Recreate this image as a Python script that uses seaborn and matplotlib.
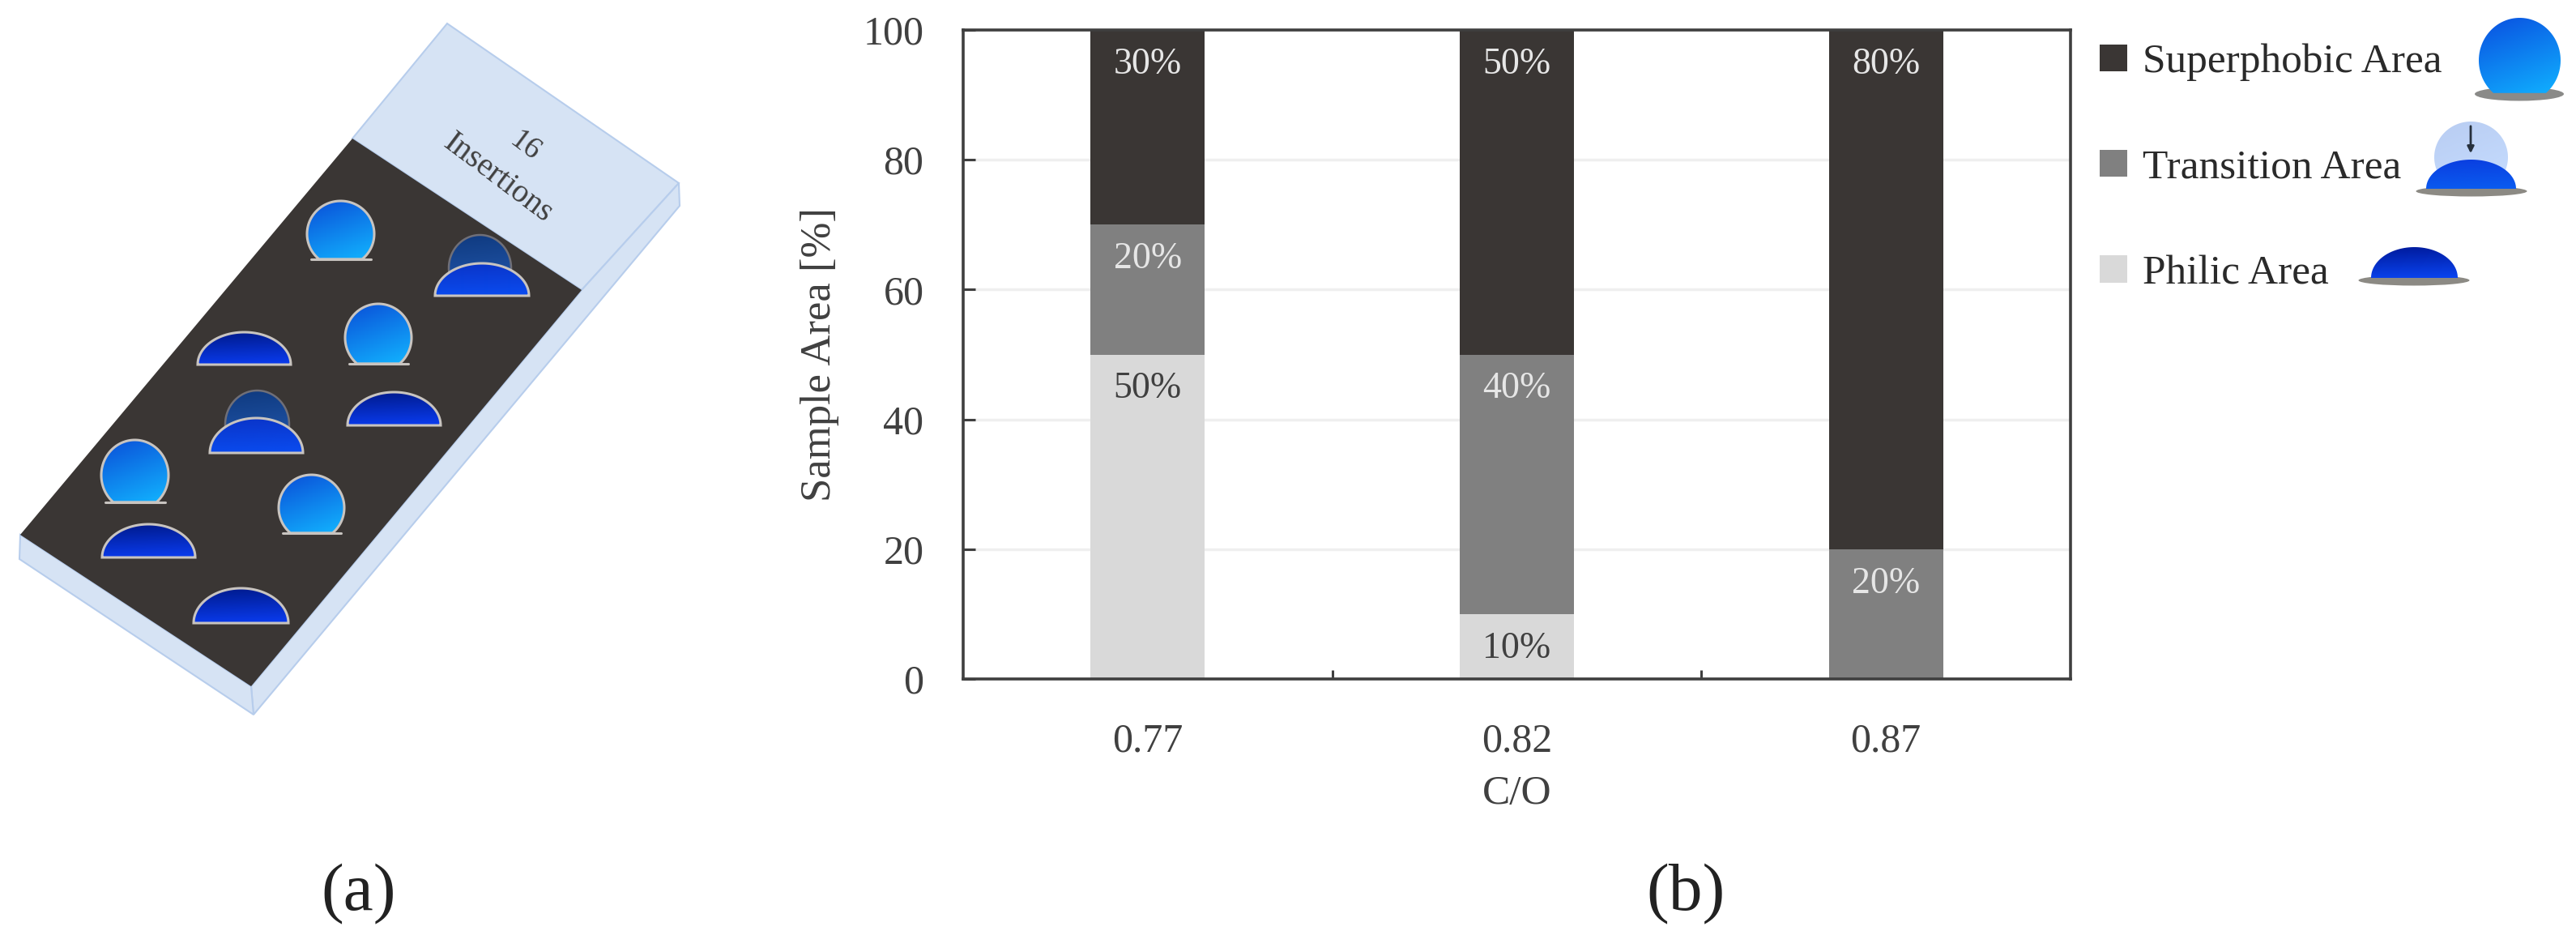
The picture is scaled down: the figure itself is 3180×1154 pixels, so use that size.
import numpy as np
import pandas as pd
import seaborn as sns
import matplotlib.pyplot as plt
from matplotlib.colors import to_rgb
from matplotlib.patches import Ellipse, Patch, Polygon

# ---------------- DATA ---------------- #

ratios = ["0.77", "0.82", "0.87"]
superphobic = [30, 50, 80]
transition = [20, 40, 20]
philic = [50, 10, 0]

legend_names = ["Superphobic Area", "Transition Area", "Philic Area"]
area_colors = ["#3a3634", "#808080", "#d9d9d9"]

y_ticks = [0, 20, 40, 60, 80, 100]

W, H = 3180, 1154
TEXT = "#404040"

sns.set_theme(style="white")
plt.rcParams["font.family"] = ["Liberation Serif", "DejaVu Serif"]

fig = plt.figure(figsize=(W / 100, H / 100), dpi=100, facecolor="white")


# ---------------- SKETCH HELPERS ---------------- #

def gradient_fill(ax, verts, c0, c1, slant=0.3, zorder=3):
    """Fill a polygon with a top-left to bottom-right colour gradient."""
    verts = np.asarray(verts)
    x0, x1 = verts[:, 0].min(), verts[:, 0].max()
    y0, y1 = verts[:, 1].min(), verts[:, 1].max()
    gx, gy = np.meshgrid(np.linspace(0, 1, 40), np.linspace(0, 1, 40))
    t = np.clip(((1 - slant) * gy + slant * gx)[..., None], 0, 1)
    img = np.array(to_rgb(c0)) * (1 - t) + np.array(to_rgb(c1)) * t
    patch = Polygon(verts, closed=True, facecolor="none", edgecolor="none")
    ax.add_patch(patch)
    im = ax.imshow(img, extent=(x0, x1, y1, y0), origin="upper", aspect="auto",
                   interpolation="bilinear", zorder=zorder)
    im.set_clip_path(patch)


def dome_verts(xl, xr, ytop, ybase):
    a = (xr - xl) / 2
    th = np.linspace(np.pi, 2 * np.pi, 60)
    return np.c_[xl + a + a * np.cos(th), ybase + (ybase - ytop) * np.sin(th)]


def ball_verts(xl, xr, ytop, ybase):
    # ellipse cut off just above its lowest point
    a = (xr - xl) / 2
    b = (ybase - ytop) * 0.565
    cy = ytop + b
    th = np.linspace(np.radians(130), np.radians(410), 80)
    return np.c_[xl + a + a * np.cos(th), cy + b * np.sin(th)]


def outline(ax, verts, color="#c8c4c0", lw=2.2, zorder=3.5):
    ax.add_patch(Polygon(verts, closed=True, facecolor="none", edgecolor=color,
                         lw=lw, zorder=zorder))


def ball_on_slide(ax, xl, xr, ytop, ybase):
    v = ball_verts(xl, xr, ytop, ybase)
    gradient_fill(ax, v, "#0a4fd8", "#12b4ff")
    outline(ax, v)
    ax.plot([xl + 5, xr - 4], [ybase, ybase], color="#c8c4c0", lw=2.2, zorder=3.5)


def dome_on_slide(ax, xl, xr, ytop, ybase, c0="#001a8c", c1="#0a3cf0"):
    v = dome_verts(xl, xr, ytop, ybase)
    gradient_fill(ax, v, c0, c1, slant=0.1, zorder=4)
    outline(ax, v, zorder=5)


def ghost_on_slide(ax, xl, xr, ytop, ybase):
    v = ball_verts(xl, xr, ytop, ybase)
    gradient_fill(ax, v, "#0f3a80", "#245ab0", slant=0.1)
    outline(ax, v, color="#6f6f78", lw=1.8)


def draw_slide(ax):
    ax.add_patch(Polygon([(552, 29), (838, 226), (718, 358), (435, 171)],
                         facecolor="#d6e3f4", edgecolor="#b7cdec", lw=1.5))
    ax.add_patch(Polygon([(838, 226), (839, 254), (313, 882), (310, 847), (718, 358)],
                         facecolor="#d6e3f4", edgecolor="#b7cdec", lw=1.5))
    ax.add_patch(Polygon([(25, 660), (24, 690), (313, 882), (310, 847)],
                         facecolor="#d6e3f4", edgecolor="#b7cdec", lw=1.5))
    ax.add_patch(Polygon([(435, 171), (718, 358), (310, 847), (25, 660)],
                         facecolor="#3a3634", edgecolor="none"))

    for xl, xr, top, base in [(379, 462, 248, 320), (426, 508, 375, 449),
                              (125, 208, 543, 620), (344, 425, 586, 658)]:
        ball_on_slide(ax, xl, xr, top, base)
    for xl, xr, top, base in [(244, 359, 410, 450), (429, 544, 484, 525),
                              (126, 241, 647, 688), (239, 356, 726, 769)]:
        dome_on_slide(ax, xl, xr, top, base)
    for gl, gr, gtop, xl, xr, top, base in [(554, 631, 290, 537, 653, 325, 365),
                                            (278, 357, 482, 259, 374, 516, 559)]:
        ghost_on_slide(ax, gl, gr, gtop, base - 3)
        dome_on_slide(ax, xl, xr, top, base, c0="#0a34c8", c1="#0a4cf0")

    ax.text(648, 181, "16", rotation=-37, rotation_mode="anchor", ha="center", va="center",
            fontsize=27, color=TEXT)
    ax.text(615, 220, "Insertions", rotation=-37, rotation_mode="anchor", ha="center",
            va="center", fontsize=29, color=TEXT)


def draw_legend_icons(ax):
    # superphobic
    ax.add_patch(Ellipse((3110, 116), 110, 17, facecolor="#8a8a88", edgecolor="none", zorder=2))
    gradient_fill(ax, ball_verts(3060, 3161, 22, 115), "#0a50e0", "#10b0ff")
    # transition
    ax.add_patch(Ellipse((3051, 236), 137, 13, facecolor="#8c8a84", edgecolor="none", zorder=2))
    gradient_fill(ax, ball_verts(3005, 3096, 150, 228), "#b9cdf2", "#c5dcff")
    ax.annotate("", xy=(3050, 192), xytext=(3050, 153),
                arrowprops=dict(arrowstyle="-|>", color="#26303c", lw=2, mutation_scale=12),
                zorder=5)
    gradient_fill(ax, dome_verts(2995, 3106, 197, 233), "#0a3ee0", "#0a5cf0", slant=0.1, zorder=4)
    # philic
    ax.add_patch(Ellipse((2980, 346), 137, 13, facecolor="#8c8a84", edgecolor="none", zorder=2))
    gradient_fill(ax, dome_verts(2927, 3034, 305, 343), "#001a9c", "#0a44f0", slant=0.1)


# ---------------- PIXEL LAYER: PANEL (a), ICONS, CAPTIONS ---------------- #

sketch = fig.add_axes([0, 0, 1, 1], zorder=0)
sketch.axis("off")
draw_slide(sketch)
draw_legend_icons(sketch)
sketch.set_xlim(0, W)
sketch.set_ylim(H, 0)
sketch.text(443, 1104, "(a)", ha="center", va="center", fontsize=60, color="#222222")
sketch.text(2081, 1104, "(b)", ha="center", va="center", fontsize=60, color="#222222")


# ---------------- PANEL (b) ---------------- #

left, right, top, bottom = 1189, 2556, 37, 838
ax = fig.add_axes([left / W, 1 - bottom / H, (right - left) / W, (bottom - top) / H], zorder=1)

df = pd.DataFrame({
    "C/O": ratios,
    "Philic": philic,
    "Transition": np.add(philic, transition),
    "Superphobic": np.add(np.add(philic, transition), superphobic),
})

# stacked by overdrawing the running totals, biggest first
for col, color in zip(["Superphobic", "Transition", "Philic"], area_colors):
    sns.barplot(data=df, x="C/O", y=col, color=color, saturation=1, width=0.31,
                linewidth=0, ax=ax)

ax.set_xlim(-0.5, 2.5)
ax.set_ylim(0, 100)
ax.set_yticks(y_ticks)
ax.set_xticks([0.5, 1.5], minor=True)
ax.set_axisbelow(True)
ax.yaxis.grid(True, color="#efefef", lw=2.5)
ax.xaxis.grid(False)

for spine in ax.spines.values():
    spine.set_visible(True)
    spine.set_color("#3f3f3f")
    spine.set_linewidth(2.6)

ax.tick_params(axis="y", direction="in", left=True, length=11, width=2.2, color="#3f3f3f",
               labelsize=36, labelcolor=TEXT, pad=35)
ax.tick_params(axis="x", which="major", bottom=False, labelsize=36, labelcolor=TEXT, pad=33)
ax.tick_params(axis="x", which="minor", direction="in", bottom=True, length=8, width=2.2,
               color="#3f3f3f")

ax.set_xlabel("C/O", fontsize=37, color=TEXT, labelpad=13)
ax.set_ylabel("Sample Area [%]", fontsize=38, color=TEXT, labelpad=21)

# value labels sit just under the top of each segment
stack_tops = [df["Superphobic"], df["Transition"], df["Philic"]]
stack_vals = [superphobic, transition, philic]
label_colors = ["#e6e6e6", "#e6e6e6", "#404040"]
for tops, vals, c in zip(stack_tops, stack_vals, label_colors):
    for i, (t, v) in enumerate(zip(tops, vals)):
        if v > 0:
            ax.text(i, t - 5.3, f"{v}%", ha="center", va="center", fontsize=33, color=c)

handles = [Patch(facecolor=c, edgecolor="none") for c in area_colors]
fig.legend(handles, legend_names, loc="upper left", bbox_to_anchor=(2592 / W, 1 - 54 / H),
           frameon=False, fontsize=37, labelcolor="#2a2a2a", borderpad=0, borderaxespad=0,
           handlelength=0.66, handleheight=0.62, handletextpad=0.38, labelspacing=1.63)

fig.savefig("out.png", dpi=100)
